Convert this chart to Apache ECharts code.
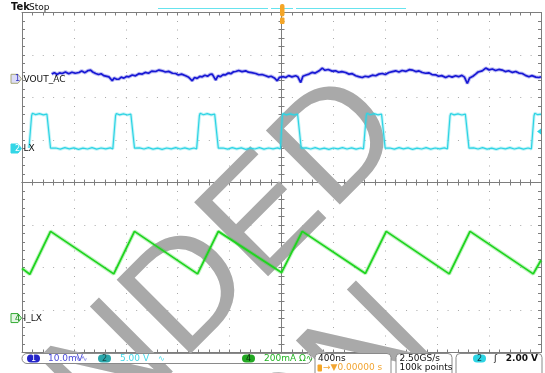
<!DOCTYPE html>
<html>
<head>
<meta charset="utf-8">
<script src="https://cdn.jsdelivr.net/npm/echarts@6/dist/echarts.min.js"></script>
</head>
<body style="margin:0">
<div id="container" style="width:545px;height:373px"></div>
<script>
// time in ns (trigger at 0), 400 ns/div, 10 divisions
// CH1 VOUT_AC, mV (10 mV/div)
var voutAc = [[-1771,1.11],[-1750,1.45],[-1730,1.0],[-1710,1.4],[-1690,1.25],[-1665,1.6],[-1640,1.2],[-1615,1.55],[-1590,1.3],[-1561,1.48],[-1540,1.85],[-1515,1.45],[-1490,1.95],[-1471,2.05],[-1455,1.6],[-1432,1.25],[-1410,1.0],[-1390,1.2],[-1370,0.75],[-1355,0.71],[-1330,0.45],[-1315,0.6],[-1304,-0.47],[-1290,0.2],[-1270,-0.1],[-1253,-0.07],[-1235,0.4],[-1215,0.15],[-1195,0.55],[-1176,0.47],[-1150,0.9],[-1125,0.7],[-1100,1.2],[-1073,1.11],[-1050,1.5],[-1025,1.3],[-1000,1.8],[-970,1.72],[-945,2.05],[-919,1.88],[-895,1.6],[-870,1.75],[-840,1.3],[-816,1.25],[-795,0.9],[-770,1.1],[-755,0.65],[-739,0.71],[-715,0.35],[-700,0.6],[-688,-0.47],[-670,0.3],[-650,0.1],[-630,0.55],[-611,0.47],[-590,0.85],[-570,0.6],[-550,1.05],[-534,1.11],[-520,0.8],[-507,-0.31],[-490,0.7],[-470,0.5],[-450,1.0],[-430,0.94],[-410,1.35],[-390,1.2],[-370,1.65],[-353,1.72],[-330,1.95],[-305,1.7],[-276,1.88],[-255,1.55],[-230,1.45],[-199,1.25],[-175,0.95],[-150,1.0],[-122,0.71],[-100,0.45],[-80,0.6],[-55,0.2],[-33,-0.47],[-15,0.35],[0,-0.1],[15,0.5],[32,0.31],[55,0.75],[80,0.45],[95,0.85],[109,0.71],[125,0.5],[140,0.6],[148,-0.87],[165,0.6],[190,0.9],[212,1.11],[235,1.5],[260,1.35],[290,1.88],[300,1.6],[314,2.52],[335,2.0],[360,2.2],[390,1.8],[417,1.88],[440,1.55],[465,1.7],[494,1.48],[520,1.1],[545,1.2],[572,0.71],[595,0.5],[610,0.7],[622,0.31],[645,0.6],[670,0.45],[700,0.85],[726,0.71],[750,1.1],[777,1.25],[800,1.0],[828,1.48],[855,1.7],[880,1.88],[905,1.6],[930,1.95],[960,1.75],[985,2.15],[1008,2.05],[1035,1.7],[1060,1.85],[1085,1.48],[1110,1.3],[1135,1.4],[1160,1.0],[1188,0.94],[1210,0.6],[1235,0.75],[1265,0.31],[1290,0.65],[1315,0.4],[1342,0.71],[1365,0.5],[1390,0.8],[1410,0.4],[1432,-1.11],[1450,0.2],[1475,0.6],[1496,1.11],[1515,1.6],[1530,1.3],[1547,1.88],[1560,1.6],[1574,2.52],[1600,2.1],[1625,2.3],[1650,1.95],[1675,2.2],[1701,2.05],[1725,1.7],[1750,1.9],[1780,1.5],[1805,1.72],[1830,1.35],[1856,1.25],[1880,0.8],[1907,0.47],[1930,0.75],[1960,0.4],[1984,0.31],[2000,0.5]];

// CH2 LX, V (5 V/div)
var lxVolt = [[-1946,0.05],[-1938,0.1],[-1926,3.85],[-1920,4.15],[-1895,3.98],[-1865,4.1],[-1835,3.95],[-1808,4.05],[-1798,3.9],[-1780,0.05],[-1774,-0.15],
  [-1740,0.06],[-1705,-0.08],[-1670,0.1],[-1635,-0.05],[-1600,0.08],[-1565,-0.1],[-1530,0.05],[-1495,-0.06],[-1460,0.1],[-1425,-0.08],[-1390,0.06],[-1355,-0.05],[-1320,0.08],[-1300,-0.04],
  [-1291,0.1],[-1279,3.85],[-1273,4.12],[-1248,3.96],[-1218,4.08],[-1188,3.94],[-1161,4.05],[-1151,3.9],[-1133,0.05],[-1127,-0.15],
  [-1095,0.08],[-1060,-0.06],[-1025,0.1],[-990,-0.08],[-955,0.05],[-920,-0.1],[-885,0.06],[-850,-0.05],[-815,0.1],[-780,-0.06],[-745,0.08],[-710,-0.08],[-675,0.06],[-654,-0.04],
  [-645,0.1],[-633,3.85],[-627,4.15],[-602,3.97],[-572,4.1],[-542,3.95],[-515,4.05],[-505,3.9],[-487,0.05],[-481,-0.15],
  [-450,0.06],[-415,-0.08],[-380,0.1],[-345,-0.05],[-310,0.08],[-275,-0.1],[-240,0.05],[-205,-0.06],[-170,0.1],[-135,-0.08],[-100,0.06],[-65,-0.05],[-30,0.08],[-8,-0.04],
  [-6,0.1],[6,3.85],[12,4.12],[37,3.96],[67,4.08],[97,3.94],[124,4.05],[134,3.9],[152,0.05],[158,-0.15],
  [190,0.08],[225,-0.06],[260,0.1],[295,-0.08],[330,0.05],[365,-0.1],[400,0.06],[435,-0.05],[470,0.1],[505,-0.06],[540,0.08],[575,-0.08],[610,0.06],[632,-0.04],
  [641,0.1],[653,3.85],[659,4.15],[684,3.97],[714,4.1],[744,3.95],[771,4.05],[781,3.9],[799,0.05],[805,-0.15],
  [835,0.06],[870,-0.08],[905,0.1],[940,-0.05],[975,0.08],[1010,-0.1],[1045,0.05],[1080,-0.06],[1115,0.1],[1150,-0.08],[1185,0.06],[1220,-0.05],[1255,0.08],[1279,-0.04],
  [1287,0.1],[1299,3.85],[1305,4.12],[1330,3.96],[1360,4.08],[1390,3.94],[1417,4.05],[1427,3.9],[1445,0.05],[1451,-0.15],
  [1480,0.08],[1515,-0.06],[1550,0.1],[1585,-0.08],[1620,0.05],[1655,-0.1],[1690,0.06],[1725,-0.05],[1760,0.1],[1795,-0.06],[1830,0.08],[1865,-0.08],[1900,0.06],[1926,-0.04],
  [1934,0.1],[1946,3.85],[1952,4.15],[1975,3.98],[2000,4.05]];

// CH4 I_LX, mA (200 mA/div)
var iLx = [[-2000,234],[-1940,206],[-1780,408],[-1293,208],[-1133,408],[-647,208],[-487,408],[0,214],[160,408],[647,210],[807,408],[1293,208],[1453,408],[1940,208],[2000,272]];

// channel settings: units per division, ground position in divisions from centre
var chScale = { vout: 10, lx: 5, il: 200 };
var chOffset = { vout: 2.44, lx: 0.8, il: -3.19 };
var chColor = { vout: '#1818d4', lx: '#2cd4e4', il: '#1fd41f' };

function toDiv(arr, key) {
  return arr.map(function (p) { return [p[0], chOffset[key] + p[1] / chScale[key]]; });
}

var dotV = [1, 7.5];
var dotH = [1, 9.38];
var borderColor = '#7d7d7d';

function xAx(pos, offset, inside, split) {
  return {
    type: 'value', min: -2000, max: 2000, interval: 400, position: pos, offset: offset,
    axisLine: { show: true, onZero: false, lineStyle: { color: borderColor, width: 1 } },
    axisTick: { show: true, inside: inside, length: 3, lineStyle: { color: borderColor } },
    minorTick: { show: true, splitNumber: 5, length: 3, lineStyle: { color: borderColor } },
    axisLabel: { show: false },
    splitLine: { show: split, lineStyle: { color: '#a8a8a8', type: dotV, width: 1 } }
  };
}
function yAx(pos, offset, inside, split) {
  return {
    type: 'value', min: -4, max: 4, interval: 1, position: pos, offset: offset,
    axisLine: { show: true, onZero: false, lineStyle: { color: borderColor, width: 1 } },
    axisTick: { show: true, inside: inside, length: 3, lineStyle: { color: borderColor } },
    minorTick: { show: true, splitNumber: 5, length: 3, lineStyle: { color: borderColor } },
    axisLabel: { show: false },
    splitLine: { show: split, lineStyle: { color: '#a8a8a8', type: dotH, width: 1 } }
  };
}

function trace(name, data, color, w) {
  return [{
    type: 'line', name: name + '_glow', data: data, showSymbol: false, symbol: 'none',
    lineStyle: { color: color, width: w + 2, opacity: 0.28 }, z: 3, silent: true
  }, {
    type: 'line', name: name, data: data, showSymbol: false, symbol: 'none',
    lineStyle: { color: color, width: w }, z: 4, silent: true
  }];
}

var chart = echarts.init(document.getElementById('container'));
var option = {
  animation: false,
  backgroundColor: '#ffffff',
  grid: { left: 22, top: 12.5, width: 519, height: 340, outerBoundsMode: 'none', containLabel: false },
  xAxis: [xAx('bottom', 0, true, true), xAx('top', 0, true, false), xAx('bottom', -170, true, false), xAx('bottom', -170, false, false)],
  yAxis: [yAx('left', 0, true, true), yAx('right', 0, true, false), yAx('left', -259.5, true, false), yAx('left', -259.5, false, false)],
  series: [].concat(
    trace('VOUT_AC', toDiv(voutAc, 'vout'), chColor.vout, 1.7),
    trace('LX', toDiv(lxVolt, 'lx'), chColor.lx, 1.2),
    trace('I_LX', toDiv(iLx, 'il'), chColor.il, 1.8)
  )
};
chart.setOption(option);

function yPix(key) { return chart.convertToPixel({ yAxisIndex: 0 }, chOffset[key]); }
function txt(x, y, s, color, size, extra) {
  var st = { text: s, fill: color, font: (extra && extra.bold ? 'bold ' : '') + size + 'px "DejaVu Sans", sans-serif',
    textAlign: (extra && extra.align) || 'left', verticalAlign: 'middle' };
  return { type: 'text', x: x, y: y, z: 6, style: st };
}
function rrect(x, y, w, h, r, fill, stroke) {
  return { type: 'rect', z: 5, shape: { x: x, y: y, width: w, height: h, r: r },
    style: { fill: fill, stroke: stroke || null, lineWidth: 1 } };
}
function marker(y, num, fill, stroke, color, label) {
  return [
    { type: 'polygon', z: 5, shape: { points: [[11, y - 4.5], [18, y - 4.5], [21.5, y], [18, y + 4.5], [11, y + 4.5]] },
      style: { fill: fill, stroke: stroke, lineWidth: 1 } },
    txt(15, y + 0.5, num, color, 8),
    txt(23.5, y + 0.5, label, '#111', 9)
  ];
}

var y1 = yPix('vout'), y2 = yPix('lx'), y4 = yPix('il');
var trigY = chart.convertToPixel({ yAxisIndex: 0 }, chOffset.lx + 2.0 / chScale.lx);

var wm = '#a9a9a9';
var graphics = [
  // watermark
  { type: 'text', x: 379, y: 106, rotation: Math.PI / 4, z: 1, silent: true,
    style: { text: 'NOT RECOMMENDED', fill: wm, font: '152px "Liberation Sans", Arial, sans-serif', textAlign: 'right', verticalAlign: 'middle' } },
  { type: 'text', x: 409, y: 316, rotation: Math.PI / 4, z: 1, silent: true,
    style: { text: 'FOR NEW DESIGN', fill: wm, font: '152px "Liberation Sans", Arial, sans-serif', textAlign: 'right', verticalAlign: 'middle' } },
  // top bar
  txt(11, 7.5, 'Tek', '#111', 10, { bold: true }),
  txt(29, 7.5, 'Stop', '#111', 9),
  { type: 'line', z: 5, shape: { x1: 158, y1: 8.5, x2: 268, y2: 8.5 }, style: { stroke: '#66e3ee', lineWidth: 1 } },
  { type: 'line', z: 5, shape: { x1: 271, y1: 8.5, x2: 293, y2: 8.5 }, style: { stroke: '#66e3ee', lineWidth: 1 } },
  { type: 'line', z: 5, shape: { x1: 296, y1: 8.5, x2: 406, y2: 8.5 }, style: { stroke: '#66e3ee', lineWidth: 1 } },
  rrect(280, 4, 4.5, 12.5, 2, '#f4a526'),
  rrect(280, 17.5, 4.5, 6.5, 1, '#f4a526'),
  { type: 'polygon', z: 5, shape: { points: [[541, trigY - 3], [537, trigY], [541, trigY + 3]] }, style: { fill: '#2cd4e4' } }
];
graphics = graphics
  .concat(marker(y1, '1', '#dcdcf8', '#a8a878', '#3333bb', 'VOUT_AC'))
  .concat(marker(y2, '2', '#33d6e6', '#33d6e6', '#ffffff', 'LX'))
  .concat(marker(y4, '4', '#e4f6e4', '#33aa33', '#118811', 'I_LX'));

// status bar
var sy = 358.5, sy2 = 368;
graphics = graphics.concat([
  rrect(22, 353.5, 289.5, 10, 5, '#ffffff', '#8a8a8a'),
  rrect(27, 354.5, 13, 8, 4, '#2424c8'), txt(33.5, sy, '1', '#ffffff', 8, { align: 'center' }),
  txt(48, sy, '10.0mV', '#4a4ad8', 9), txt(74, sy, '\u223f\u223f', '#6a6ae0', 8),
  rrect(98, 354.5, 13, 8, 4, '#2aa6aa'), txt(104.5, sy, '2', '#1a4a4a', 8, { align: 'center' }),
  txt(120, sy, '5.00 V', '#44d8e8', 9), txt(158, sy, '\u223f', '#44d8e8', 8),
  rrect(242, 354.5, 13, 8, 4, '#22a822'), txt(248.5, sy, '4', '#0a2a0a', 8, { align: 'center' }),
  txt(264, sy, '200mA \u03a9\u223f', '#22b422', 9),
  rrect(315, 353.5, 76, 24, 4, '#ffffff', '#8a8a8a'),
  txt(318, sy, '400ns', '#111', 9),
  rrect(317.5, 364.5, 4.5, 7, 1, '#f4a526'),
  txt(323, sy2, '\u2192\u25bc0.00000 s', '#f2a532', 9),
  rrect(396, 353.5, 56, 24, 4, '#ffffff', '#8a8a8a'),
  txt(399.5, sy, '2.50GS/s', '#111', 9),
  txt(399.5, sy2, '100k points', '#111', 9),
  rrect(456, 353.5, 86, 24, 4, '#ffffff', '#8a8a8a'),
  rrect(473, 354.5, 13, 8, 4, '#2cd4e4'), txt(479.5, sy, '2', '#0a3a40', 8, { align: 'center' }),
  txt(494, sy, '\u0283', '#111', 9),
  txt(538, sy, '2.00 V', '#111', 9, { bold: true, align: 'right' })
]);

chart.setOption({ graphic: { elements: graphics } });
</script>
</body>
</html>
